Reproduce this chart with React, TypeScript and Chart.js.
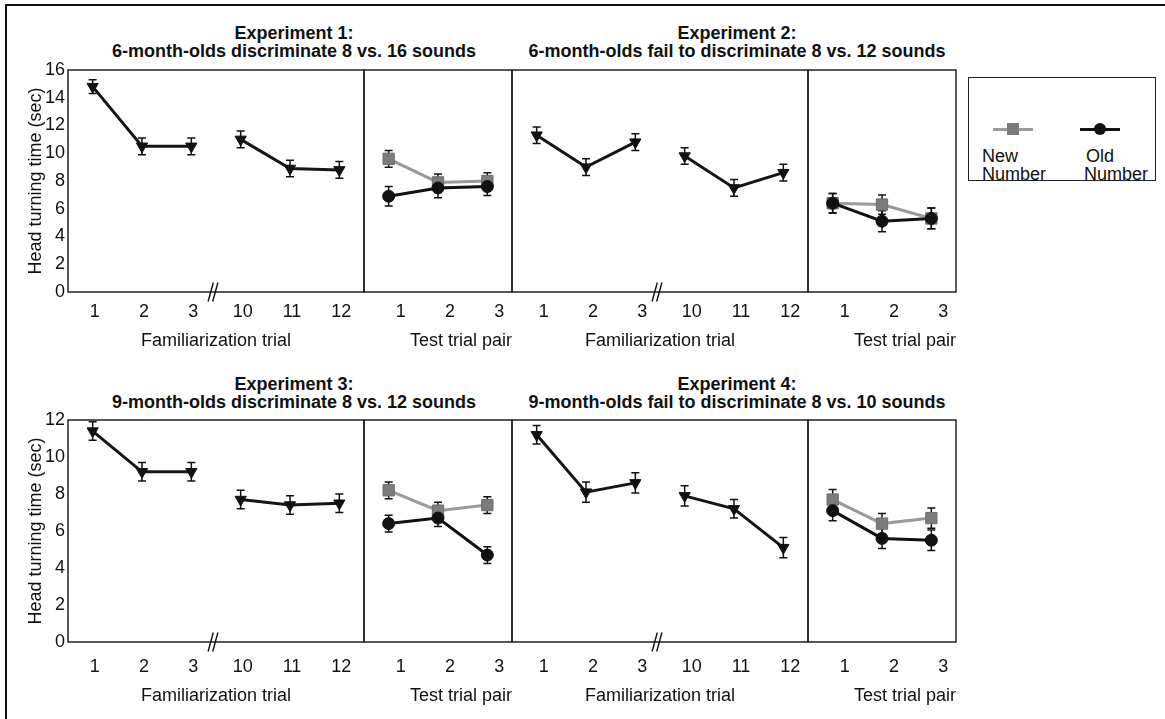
import React, { useEffect, useRef } from "react";
import { Chart, registerables } from "chart.js";

Chart.register(...registerables);

const FONT = '"Liberation Sans", Arial, Helvetica, sans-serif';
Chart.defaults.font.family = FONT;

// tick labels
const famLabels = ["1", "2", "3", "10", "11", "12"];
const testLabels = ["1", "2", "3"];

const panelTitles = [
  ["Experiment 1:", "6-month-olds discriminate 8 vs. 16 sounds"],
  ["Experiment 2:", "6-month-olds fail to discriminate 8 vs. 12 sounds"],
  ["Experiment 3:", "9-month-olds discriminate 8 vs. 12 sounds"],
  ["Experiment 4:", "9-month-olds fail to discriminate 8 vs. 10 sounds"],
];

const yMax = [16, 16, 12, 12];

// familiarization trials (sec), one row per experiment
const famTimes = [
  [14.8, 10.5, 10.5, 11.0, 8.9, 8.8],
  [11.3, 9.0, 10.8, 9.8, 7.5, 8.6],
  [11.4, 9.2, 9.2, 7.7, 7.4, 7.5],
  [11.2, 8.1, 8.6, 7.9, 7.2, 5.1],
];
const famErrors = [
  [0.5, 0.6, 0.6, 0.6, 0.6, 0.6],
  [0.6, 0.6, 0.6, 0.6, 0.6, 0.6],
  [0.5, 0.5, 0.5, 0.5, 0.5, 0.5],
  [0.5, 0.55, 0.55, 0.55, 0.5, 0.55],
];

// test trial pairs
const newNumber = [
  [9.6, 7.9, 8.0],
  [6.4, 6.3, 5.3],
  [8.2, 7.1, 7.4],
  [7.7, 6.4, 6.7],
];
const newErrors = [
  [0.6, 0.6, 0.6],
  [0.7, 0.7, 0.75],
  [0.45, 0.45, 0.45],
  [0.55, 0.55, 0.55],
];
const oldNumber = [
  [6.9, 7.5, 7.6],
  [6.4, 5.1, 5.3],
  [6.4, 6.7, 4.7],
  [7.1, 5.6, 5.5],
];
const oldErrors = [
  [0.7, 0.7, 0.65],
  [0.7, 0.75, 0.75],
  [0.45, 0.45, 0.45],
  [0.55, 0.55, 0.55],
];

const INK = "#111";
const tickFont = { size: 18, family: FONT };

const framePlugin = {
  id: "frame",
  beforeDatasetsDraw(chart: any) {
    const { ctx, scales } = chart;
    ctx.save();
    ctx.strokeStyle = INK;
    ctx.lineWidth = 1.5;
    chart.data.datasets.forEach((ds: any, i: number) => {
      const meta = chart.getDatasetMeta(i);
      (ds.errors || []).forEach((e: number, j: number) => {
        const v = ds.data[j];
        const x = meta.data[j].x;
        const yTop = scales.y.getPixelForValue(v + e);
        const yBot = scales.y.getPixelForValue(v - e);
        ctx.beginPath();
        ctx.moveTo(x, yTop);
        ctx.lineTo(x, yBot);
        ctx.moveTo(x - 4, yTop);
        ctx.lineTo(x + 4, yTop);
        ctx.moveTo(x - 4, yBot);
        ctx.lineTo(x + 4, yBot);
        ctx.stroke();
      });
    });
    ctx.restore();
  },
  afterDraw(chart: any, _args: any, opts: any) {
    const { ctx, chartArea: a, scales } = chart;
    ctx.save();
    ctx.strokeStyle = "#222";
    ctx.lineWidth = 1.5;
    ctx.strokeRect(a.left, a.top, a.right - a.left, a.bottom - a.top);
    if (opts && opts.breakMark) {
      const cx =
        (scales.x.getPixelForValue(2) + scales.x.getPixelForValue(3)) / 2 - 3;
      ctx.strokeStyle = INK;
      ctx.lineWidth = 1.4;
      [-2.3, 2.3].forEach((k) => {
        ctx.beginPath();
        ctx.moveTo(cx + k - 2.6, a.bottom + 9.5);
        ctx.lineTo(cx + k + 2.6, a.bottom - 9.5);
        ctx.stroke();
      });
    }
    ctx.restore();
  },
};

type Spec = {
  left: number;
  top: number;
  width: number;
  height: number;
  config: any;
};

const ChartBox: React.FC<{ spec: Spec }> = ({ spec }) => {
  const canvasRef = useRef<HTMLCanvasElement | null>(null);
  useEffect(() => {
    const canvas = canvasRef.current;
    if (!canvas) return;
    const chart = new Chart(canvas, spec.config);
    return () => chart.destroy();
  }, [spec]);
  return (
    <canvas
      ref={canvasRef}
      width={spec.width}
      height={spec.height}
      style={{
        position: "absolute",
        left: spec.left,
        top: spec.top,
        width: spec.width,
        height: spec.height,
      }}
    />
  );
};

const FAM_W = 296;
const TEST_W = 148;
const PLOT_H = 222;
const AXIS_H = 70;

function makeSpecs(p: number): Spec[] {
  const row = p >> 1;
  const col = p & 1;
  const top = row ? 420 : 70;
  const famLeft = col ? 512 : 68;
  const testLeft = famLeft + FAM_W;
  const tickPad = row ? 14 : 9;
  const titlePad = row ? 5 : 10;

  const xAxis = (labelOffset: number, title: string, align: string) => ({
    type: "category",
    offset: true,
    grid: { display: false, drawTicks: false },
    border: { display: false },
    ticks: {
      padding: tickPad,
      labelOffset,
      autoSkip: false,
      maxRotation: 0,
      font: tickFont,
      color: INK,
    },
    title: {
      display: true,
      text: title,
      align,
      font: tickFont,
      color: INK,
      padding: { top: 0, bottom: titlePad },
    },
    afterFit: (s: any) => {
      s.height = AXIS_H;
      s.paddingLeft = 0;
      s.paddingRight = 0;
    },
  });

  const yAxis = (show: boolean) => ({
    display: show,
    min: 0,
    max: yMax[p],
    grid: { display: false, drawTicks: false },
    border: { display: false },
    ticks: { stepSize: 2, padding: 3, font: tickFont, color: INK },
    title: {
      display: true,
      text: "Head turning time (sec)",
      font: tickFont,
      color: INK,
      padding: { top: 12, bottom: 0 },
    },
    afterFit: (s: any) => {
      s.width = show ? 55 : 0;
    },
  });

  const base = {
    animation: false,
    responsive: false,
    events: [],
  };

  const famPadLeft = col ? 4 : 13;
  const famCanvasLeft = famLeft - (col ? 4 : 68);
  const fam: Spec = {
    left: famCanvasLeft,
    top: top - 14,
    width: famLeft - famCanvasLeft + FAM_W + 4,
    height: 14 + PLOT_H + AXIS_H + 4,
    config: {
      type: "line",
      data: {
        labels: famLabels,
        datasets: [
          {
            data: famTimes[p],
            errors: famErrors[p],
            borderColor: "#151515",
            borderWidth: 3,
            pointStyle: "triangle",
            pointRotation: 180,
            pointRadius: 6.5,
            pointBackgroundColor: INK,
            pointBorderColor: INK,
            pointBorderWidth: 1,
            segment: {
              borderColor: (c: any) =>
                c.p0DataIndex === 2 ? "rgba(0,0,0,0)" : undefined,
            },
          },
        ],
      },
      options: {
        ...base,
        layout: {
          autoPadding: false,
          padding: { left: famPadLeft, top: 14, right: 4, bottom: 4 },
        },
        scales: {
          x: xAxis(col ? 7 : 2, "Familiarization trial", "center"),
          y: yAxis(col === 0),
        },
        plugins: {
          legend: { display: false },
          tooltip: { enabled: false },
          frame: { breakMark: true },
        },
      },
      plugins: [framePlugin],
    },
  };

  const test: Spec = {
    left: testLeft - 4,
    top: top - 14,
    width: TEST_W + 8,
    height: 14 + PLOT_H + AXIS_H + 4,
    config: {
      type: "line",
      data: {
        labels: testLabels,
        datasets: [
          {
            label: "Old Number",
            data: oldNumber[p],
            errors: oldErrors[p],
            borderColor: "#111",
            borderWidth: 3,
            pointStyle: "circle",
            pointRadius: 6,
            pointBackgroundColor: INK,
            pointBorderColor: INK,
            pointBorderWidth: 1,
          },
          {
            label: "New Number",
            data: newNumber[p],
            errors: newErrors[p],
            borderColor: "#9a9a9a",
            borderWidth: 3,
            pointStyle: "rect",
            pointRadius: 8,
            pointBackgroundColor: "#7c7c7c",
            pointBorderColor: "#6c6c6c",
            pointBorderWidth: 1,
          },
        ],
      },
      options: {
        ...base,
        layout: {
          autoPadding: false,
          padding: { left: 4, top: 14, right: 4, bottom: 4 },
        },
        scales: {
          x: xAxis(12, "Test trial pair", "end"),
          y: yAxis(false),
        },
        plugins: {
          legend: { display: false },
          tooltip: { enabled: false },
          frame: { breakMark: false },
        },
      },
      plugins: [framePlugin],
    },
  };

  return [fam, test];
}

const allSpecs: Spec[] = [0, 1, 2, 3].flatMap((p) => makeSpecs(p));

const titleStyle = (cx: number, top: number): React.CSSProperties => ({
  position: "absolute",
  left: cx - 260,
  top,
  width: 520,
  textAlign: "center",
  font: `bold 18px ${FONT}`,
  lineHeight: "18px",
  color: INK,
  whiteSpace: "nowrap",
});

const legendText: React.CSSProperties = {
  position: "absolute",
  top: 147,
  font: `18px ${FONT}`,
  lineHeight: "18px",
  color: INK,
  whiteSpace: "nowrap",
};

export default function App() {
  return (
    <div
      style={{
        position: "absolute",
        left: 0,
        top: 0,
        width: 1165,
        height: 719,
        overflow: "hidden",
        background: "#fff",
      }}
    >
      <div
        style={{
          position: "absolute",
          left: 5,
          top: 4,
          width: 1300,
          height: 900,
          borderLeft: `2px solid ${INK}`,
          borderTop: `2px solid ${INK}`,
        }}
      />
      {panelTitles.map((t, p) => (
        <div key={p} style={titleStyle((p & 1 ? 737 : 294), p >> 1 ? 375 : 24)}>
          {t[0]}
          <br />
          {t[1]}
        </div>
      ))}
      {allSpecs.map((s, i) => (
        <ChartBox key={i} spec={s} />
      ))}
      {/* legend */}
      <div
        style={{
          position: "absolute",
          left: 968,
          top: 77,
          width: 186,
          height: 102,
          border: "1.5px solid #222",
        }}
      />
      <div style={{ position: "absolute", left: 993, top: 127.5, width: 40, height: 3, background: "#9a9a9a" }} />
      <div style={{ position: "absolute", left: 1007, top: 123, width: 12, height: 12, background: "#7c7c7c" }} />
      <div style={{ position: "absolute", left: 1080, top: 127.5, width: 40, height: 3, background: "#111" }} />
      <div style={{ position: "absolute", left: 1094, top: 123, width: 12, height: 12, borderRadius: 6, background: "#111" }} />
      <div style={{ ...legendText, left: 982 }}>
        New
        <br />
        Number
      </div>
      <div style={{ ...legendText, left: 1084 }}>
        <span style={{ paddingLeft: 2 }}>Old</span>
        <br />
        Number
      </div>
    </div>
  );
}
